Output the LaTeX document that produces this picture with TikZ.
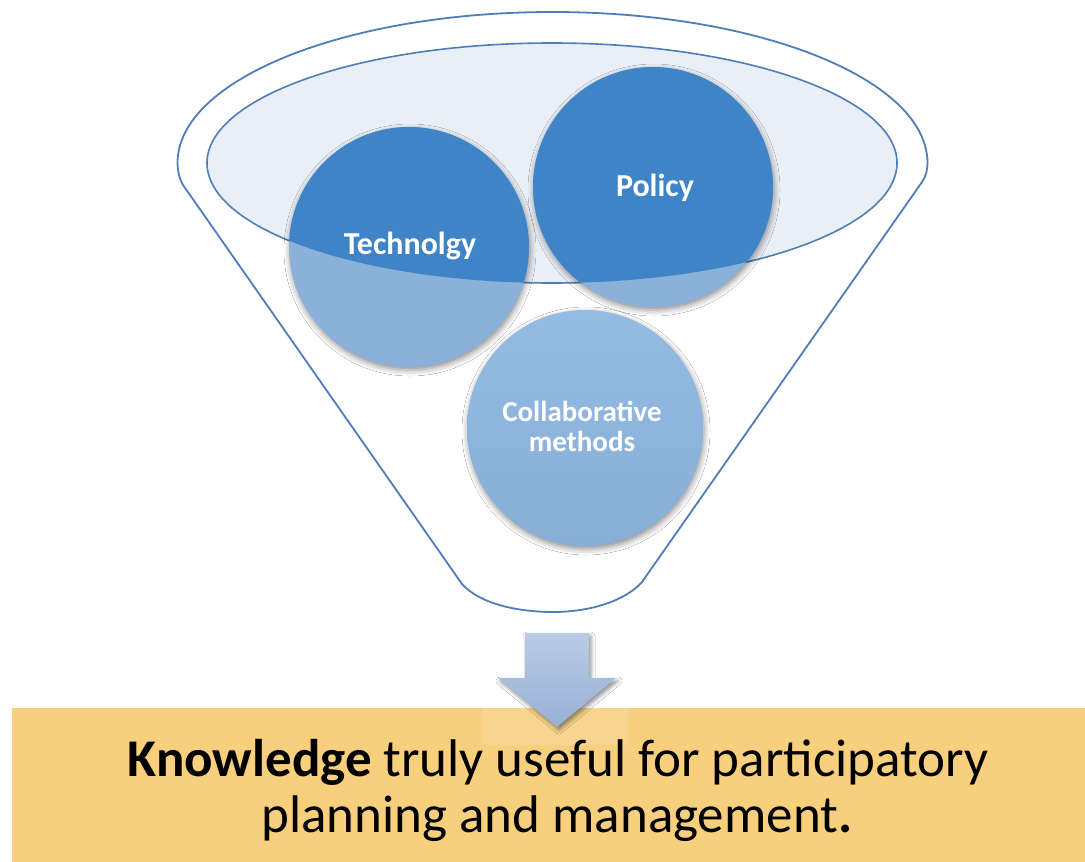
\documentclass[tikz,border=0pt]{standalone}
\usepackage{fontspec}
\setmainfont{Carlito}
\usetikzlibrary{shadows.blur}
\definecolor{funnelline}{HTML}{4F7DBA}
\definecolor{openfill}{HTML}{E9EFF6}
\definecolor{darkblue}{HTML}{3F84C6}
\definecolor{lightblue}{HTML}{8BB0D9}
\definecolor{collabtop}{HTML}{94BBE3}
\definecolor{collabbot}{HTML}{88AED8}
\definecolor{arrowtop}{HTML}{B9CBE5}
\definecolor{arrowbot}{HTML}{97B0D5}
\definecolor{boxfill}{HTML}{F8CF7D}
\tikzset{
  outline/.style={draw=funnelline, line width=1.8pt, line join=round},
  bubble/.style={circle, inner sep=0pt, minimum size=240pt,
    blur shadow={shadow xshift=1pt, shadow yshift=-3pt, shadow blur radius=6pt, shadow opacity=45}},
  bubbletext/.style={text=white, font=\bfseries\fontsize{32}{36}\selectfont, align=center},
  maintext/.style={font=\fontsize{53}{56}\selectfont, anchor=base}
}
\begin{document}
\begin{tikzpicture}[x=1pt,y=-1pt]
\useasboundingbox (0,0) rectangle (1085,862);
\fill[white] (0,0) rectangle (1085,862);

% funnel body
\draw[outline] (183,185) .. controls (179,178) and (177.5,170) .. (177.5,163)
  arc[start angle=180, end angle=360, x radius=375, y radius=151]
  .. controls (927.5,170) and (926,176) .. (922,182)
  -- (642,582) .. controls (625,601) and (590,612) .. (553,612)
  .. controls (518,612) and (480,604) .. (462,584) -- cycle;

% opening
\draw[outline, fill=openfill, line width=1.6pt] (552,163) ellipse [x radius=345, y radius=120];

% circles
\node[bubble, fill=lightblue] (tech) at (409,247) {};
\node[bubble, fill=lightblue] (policy) at (653,187) {};
\node[bubble, minimum size=236pt, top color=collabtop, bottom color=collabbot] (collab) at (585,428) {};
\begin{scope}
  \clip (552,163) ellipse [x radius=345, y radius=120];
  \fill[darkblue] (tech.center) circle [radius=120];
  \fill[darkblue] (policy.center) circle [radius=120];
\end{scope}
\node[bubbletext] (techtext) at (410,246) {Technolgy};
\node[bubbletext] (policytext) at (655,188) {Policy};
\node[bubbletext, font=\bfseries\fontsize{29}{30}\selectfont] (collabtext) at (582,426) {Collaborative\\methods};

% result box
\node[fill=boxfill, minimum width=1073pt, minimum height=154pt, inner sep=0pt] (box) at (548.5,785) {};
\fill[white, opacity=0.14] (482,708) rectangle (628,745);

% arrow
\path[top color=arrowtop, bottom color=arrowbot,
  blur shadow={shadow xshift=2pt, shadow yshift=-3pt, shadow blur radius=4pt, shadow opacity=45}]
  (525,633) -- (589,633) -- (589,678) -- (616,678) -- (557,727) -- (498,678) -- (525,678) -- cycle;
\coordinate (arrowtip) at (557,727);

\node[maintext] (line1) at (558,776) {\textbf{Knowledge} truly useful for participatory};
\node[maintext] (line2) at (557,832) {planning and management\textbf{.}};
\end{tikzpicture}
\end{document}
